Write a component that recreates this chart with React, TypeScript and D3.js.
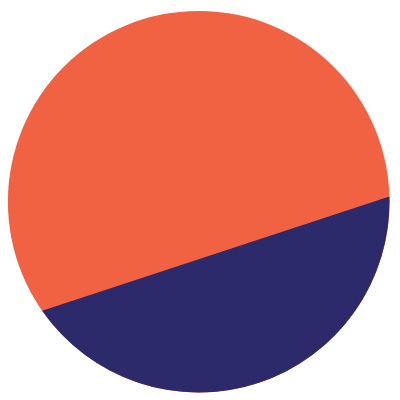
import { useEffect, useRef } from 'react';
import * as d3 from 'd3';

// Two shares of the circle, split by a straight chord
const categories = ['Upper', 'Lower'];
const shares = [68, 32];
const colors = ['#F06241', '#2C2A6B'];

const WIDTH = 400;
const HEIGHT = 400;
const CX = 198.7;
const CY = 201.7;
const R = 190.8;
// direction (canvas radians) from centre to the middle of the lower segment
const TILT = (71.8 * Math.PI) / 180;

// central angle of a circular segment holding `frac` of the disc area
const segmentAngle = (frac: number) => {
	const target = frac * 2 * Math.PI;
	let lo = 0;
	let hi = 2 * Math.PI;
	for (let i = 0; i < 60; i++) {
		const mid = (lo + hi) / 2;
		if (mid - Math.sin(mid) < target) lo = mid;
		else hi = mid;
	}
	return (lo + hi) / 2;
};

export default function App() {
	const svgRef = useRef<SVGSVGElement>(null);

	useEffect(() => {
		if (!svgRef.current) return;
		const svg = d3.select(svgRef.current);
		svg.selectAll('*').remove();

		const total = d3.sum(shares);
		const color = d3.scaleOrdinal<string, string>().domain(categories).range(colors);

		// full disc in the first colour
		svg
			.append('circle')
			.attr('cx', CX)
			.attr('cy', CY)
			.attr('r', R)
			.attr('fill', color(categories[0]));

		// lower segment cut by a chord
		const theta = segmentAngle(shares[1] / total);
		const a0 = TILT - theta / 2;
		const a1 = TILT + theta / 2;
		const p = d3.path();
		p.moveTo(CX + R * Math.cos(a0), CY + R * Math.sin(a0));
		p.arc(CX, CY, R, a0, a1);
		p.closePath();

		svg
			.append('path')
			.attr('d', p.toString())
			.attr('fill', color(categories[1]));
	}, []);

	return (
		<svg
			ref={svgRef}
			width={WIDTH}
			height={HEIGHT}
			style={{ position: 'fixed', left: 0, top: 0, background: '#fff' }}
		></svg>
	);
}
